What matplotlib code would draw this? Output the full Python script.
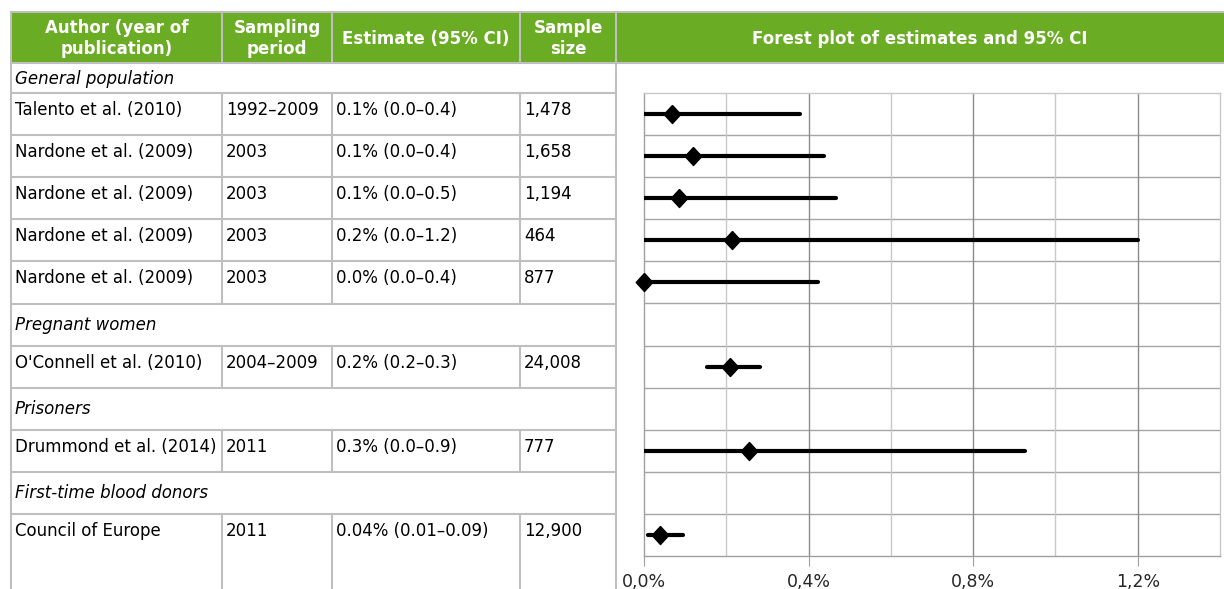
import matplotlib.pyplot as plt
from matplotlib.patches import Rectangle

# table content
authors = ["Talento et al. (2010)", "Nardone et al. (2009)", "Nardone et al. (2009)",
           "Nardone et al. (2009)", "Nardone et al. (2009)", "O'Connell et al. (2010)",
           "Drummond et al. (2014)", "Council of Europe"]
periods = ["1992–2009", "2003", "2003", "2003", "2003", "2004–2009", "2011", "2011"]
estimates = ["0.1% (0.0–0.4)", "0.1% (0.0–0.4)", "0.1% (0.0–0.5)", "0.2% (0.0–1.2)",
             "0.0% (0.0–0.4)", "0.2% (0.2–0.3)", "0.3% (0.0–0.9)", "0.04% (0.01–0.09)"]
sizes = ["1,478", "1,658", "1,194", "464", "877", "24,008", "777", "12,900"]
groups = ["General population", "Pregnant women", "Prisoners", "First-time blood donors"]
group_of = [0, 0, 0, 0, 0, 1, 2, 3]
headers = ["Author (year of\npublication)", "Sampling\nperiod", "Estimate (95% CI)",
           "Sample\nsize", "Forest plot of estimates and 95% CI"]

# forest plot values, in %
est = [0.067, 0.12, 0.085, 0.213, 0.0, 0.21, 0.254, 0.038]
ci_low = [0.0, 0.0, 0.0, 0.0, 0.0, 0.154, 0.0, 0.01]
ci_high = [0.379, 0.437, 0.467, 1.2, 0.422, 0.282, 0.926, 0.094]
x_ticks = [0.0, 0.4, 0.8, 1.2]
x_ticklabels = ["0,0%", "0,4%", "0,8%", "1,2%"]

W, H = 1224, 589
green = "#6aac23"
border = "#bfbfbf"
col_x = [11, 222, 332, 520, 616]
head_top, head_bot = 12, 63
first_bot = 93
row_h = 42.1

# row sequence below the first group label
seq = []
prev = group_of[0]
for i, g in enumerate(group_of):
    if g != prev:
        seq.append(("group", g))
        prev = g
    seq.append(("study", i))
n_rows = len(seq)

fig = plt.figure(figsize=(W / 100, H / 100), dpi=100)
tab = fig.add_axes([0, 0, 1, 1])
tab.set_xlim(0, W)
tab.set_ylim(H, 0)
tab.axis("off")

# header band
tab.add_patch(Rectangle((col_x[0], head_top), W - col_x[0], head_bot - head_top,
                        facecolor=green, edgecolor="none"))
tab.plot([col_x[0], W], [head_top, head_top], color=border, lw=1.5)
tab.plot([col_x[0], W], [head_bot, head_bot], color=border, lw=1.5)
for x in col_x[1:4]:
    tab.plot([x, x], [head_top, head_bot], color=border, lw=1.5)
tab.plot([col_x[0], col_x[0]], [head_top, H], color=border, lw=1.5)
tab.plot([col_x[-1], col_x[-1]], [head_top, H], color=border, lw=1.5)

centers = [(col_x[k] + col_x[k + 1]) / 2 for k in range(4)] + [(col_x[-1] + W) / 2]
for cx, txt in zip(centers, headers):
    tab.text(cx, (head_top + head_bot) / 2 + 1, txt, color="white", fontsize=12,
             fontweight="bold", ha="center", va="center", linespacing=1.2)

# first group label row
tab.text(col_x[0] + 4, head_bot + 16, groups[0], fontsize=12, style="italic",
         ha="left", va="center")
tab.plot([col_x[0], col_x[-1]], [first_bot, first_bot], color=border, lw=1.5)

for r, (kind, idx) in enumerate(seq):
    top = first_bot + r * row_h
    bot = top + row_h if r < n_rows - 1 else H
    if r < n_rows - 1:
        tab.plot([col_x[0], col_x[-1]], [bot, bot], color=border, lw=1.5)
    if kind == "group":
        tab.text(col_x[0] + 4, top + 21, groups[idx], fontsize=12, style="italic",
                 ha="left", va="center")
    else:
        for x in col_x[1:4]:
            tab.plot([x, x], [top, bot], color=border, lw=1.5)
        cells = [authors[idx], periods[idx], estimates[idx], sizes[idx]]
        for k, txt in enumerate(cells):
            tab.text(col_x[k] + 4, top + 17, txt, fontsize=12, ha="left", va="center")

# forest plot
px_l, px_r, px_t, px_b = 644, 1220, first_bot, 556
ax = fig.add_axes([px_l / W, (H - px_b) / H, (px_r - px_l) / W, (px_b - px_t) / H])
ax.set_xlim(0, 1.4)
ax.set_ylim(n_rows, 0)
for k in range(1, n_rows):
    ax.axhline(k, color="#a6a6a6", lw=1, zorder=1)
for x in [0.2, 0.6, 1.0]:
    ax.axvline(x, color="#c8c8c8", lw=1, zorder=1)
for x in [0.4, 0.8, 1.2]:
    ax.axvline(x, color="#8c8c8c", lw=1, zorder=1)
for s in ["top", "right"]:
    ax.spines[s].set_color("#c8c8c8")
for s in ["left", "bottom"]:
    ax.spines[s].set_color("#a0a0a0")
for s in ax.spines.values():
    s.set_linewidth(1)

diamond = [(0, 1), (0.92, 0), (0, -1), (-0.92, 0), (0, 1)]
for r, (kind, idx) in enumerate(seq):
    if kind != "study":
        continue
    y = r + 0.5
    ax.plot([ci_low[idx], ci_high[idx]], [y, y], color="black", lw=3,
            solid_capstyle="round", zorder=3)
    ax.plot([est[idx]], [y], marker=diamond, ms=13, color="black", clip_on=False,
            zorder=4)

ax.set_xticks(x_ticks)
ax.set_xticklabels(x_ticklabels, fontsize=12.5, color="#262626")
ax.set_yticks([])
ax.tick_params(axis="x", length=7, color="#a0a0a0", pad=5)

fig.savefig("out.png", dpi=100)
